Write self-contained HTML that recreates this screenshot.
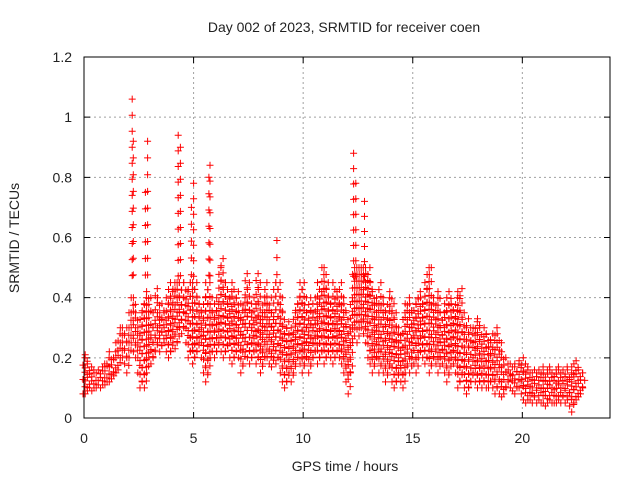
<!DOCTYPE html>
<html><head><meta charset="utf-8"><style>
body{margin:0;background:#fff}
svg text{font-family:"Liberation Sans",sans-serif;font-size:14px;fill:#222}
</style></head><body>
<svg id="chart" width="640" height="480">
<text x="344" y="32" text-anchor="middle">Day 002 of 2023, SRMTID for receiver coen</text>
<g id="grid"></g>
<g id="ticks"></g>
<path id="marks" fill="none" stroke="#ff0000" stroke-width="1"></path>
<rect x="84" y="57" width="526" height="361" fill="none" stroke="#000" stroke-width="1"></rect>
<text x="345" y="471" text-anchor="middle">GPS time / hours</text>
<text transform="translate(19,238) rotate(-90)" text-anchor="middle">SRMTID / TECUs</text>
</svg>
<script>
const xTicks=[0,5,10,15,20];
const yTicks=[0,0.2,0.4,0.6,0.8,1,1.2];
const yTickLabels=["0","0.2","0.4","0.6","0.8","1","1.2"];
const tStep=0.1;
const hiVals=[.2,.21,.18,.17,.16,.15,.15,.16,.17,.18,
.18,.2,.22,.2,.22,.25,.28,.3,.3,.28,
.3,.35,.4,.4,.35,.3,.35,.38,.4,.42,
.4,.3,.35,.43,.4,.35,.38,.35,.4,.45,
.42,.45,.45,.45,.45,.45,.45,.42,.45,.45,
.45,.45,.4,.38,.35,.4,.45,.45,.4,.35,
.38,.4,.5,.53,.45,.45,.4,.42,.45,.4,
.42,.35,.38,.4,.48,.45,.38,.35,.4,.48,
.45,.35,.4,.45,.38,.4,.35,.45,.45,.45,
.4,.35,.3,.32,.28,.3,.35,.38,.4,.45,
.45,.4,.35,.4,.38,.35,.4,.45,.42,.5,
.5,.45,.4,.38,.45,.42,.4,.45,.4,.38,
.35,.3,.4,.5,.5,.5,.5,.5,.5,.48,
.5,.45,.42,.4,.38,.45,.4,.38,.35,.4,
.42,.38,.35,.3,.3,.28,.35,.38,.4,.38,
.35,.38,.4,.42,.4,.38,.45,.5,.5,.4,
.38,.4,.42,.35,.35,.38,.4,.42,.38,.36,
.4,.42,.43,.35,.3,.33,.3,.28,.3,.32,
.33,.3,.27,.3,.28,.26,.25,.28,.3,.28,
.25,.22,.2,.18,.18,.17,.17,.18,.18,.19,
.2,.18,.17,.16,.15,.15,.16,.15,.16,.17,
.15,.16,.17,.16,.15,.16,.17,.16,.15,.16,
.17,.16,.15,.17,.18,.19,.16,.15,.15];
const loVals=[.08,.08,.09,.1,.09,.1,.1,.11,.1,.11,
.11,.12,.12,.13,.14,.15,.16,.2,.2,.18,
.15,.2,.25,.22,.2,.15,.1,.12,.1,.15,
.2,.18,.2,.22,.25,.22,.24,.25,.22,.2,
.22,.25,.23,.25,.3,.28,.3,.25,.2,.22,
.18,.2,.22,.25,.2,.15,.12,.15,.2,.22,
.2,.22,.25,.22,.2,.22,.24,.2,.18,.2,
.22,.2,.15,.18,.22,.2,.18,.2,.22,.18,
.2,.15,.18,.2,.2,.18,.17,.2,.18,.2,
.15,.12,.1,.12,.15,.12,.15,.18,.2,.18,
.15,.18,.2,.15,.18,.2,.22,.18,.2,.22,
.18,.2,.22,.2,.18,.2,.22,.2,.18,.15,
.12,.08,.15,.25,.3,.25,.3,.3,.28,.25,
.2,.18,.15,.18,.2,.15,.18,.15,.12,.15,
.18,.12,.1,.12,.15,.12,.1,.15,.18,.15,
.2,.18,.15,.2,.22,.2,.18,.2,.15,.18,
.2,.18,.15,.2,.18,.15,.12,.15,.2,.18,
.15,.1,.12,.15,.1,.08,.1,.12,.15,.12,
.1,.12,.1,.12,.1,.1,.12,.1,.08,.1,
.08,.07,.08,.1,.12,.1,.09,.08,.1,.1,
.08,.06,.05,.06,.06,.05,.07,.05,.06,.05,
.05,.04,.05,.06,.05,.05,.05,.06,.05,.07,
.05,.06,.04,.02,.05,.06,.07,.08,.1];
const spikeTimes=[2.2,2.25,2.8,2.9,4.3,4.4,4.9,5.0,5.7,5.75,8.8,12.3,12.4,12.8];
const spikeVals=[1.06,0.92,0.75,0.92,0.94,0.9,0.7,0.78,0.8,0.84,0.59,0.88,0.78,0.72];

const X0=84,X1=610,Y0=418,Y1=57;
const xs=v=>X0+(v/24)*(X1-X0);
const ys=v=>Y0-(v/1.2)*(Y0-Y1);
const NS='http://www.w3.org/2000/svg';
const grid=document.getElementById('grid'),ticks=document.getElementById('ticks'),svg=document.getElementById('chart');
function mk(tag,parent,attrs){const e=document.createElementNS(NS,tag);for(const k in attrs)e.setAttribute(k,attrs[k]);parent.appendChild(e);return e;}
xTicks.forEach(v=>{
  const x=xs(v);
  if(v>0){const g=mk('line',grid,{x1:x,x2:x,y1:Y1,y2:Y0,stroke:'#a0a0a0','stroke-dasharray':'2,3'});
  
  }
  const t=mk('path',ticks,{d:`M${x} ${Y0}v-6M${x} ${Y1}v6`,stroke:'#000'});
  
  
  const l=mk('text',svg,{x:x,y:443,'text-anchor':'middle'});l.textContent=v;
  
  
});
yTicks.forEach((v,i)=>{
  const y=ys(v);
  if(v>0&&v<1.2){const g=mk('line',grid,{x1:X0,x2:X1,y1:y,y2:y,stroke:'#a0a0a0','stroke-dasharray':'2,3'});
  
  }
  const t=mk('path',ticks,{d:`M${X0} ${y}h6M${X1} ${y}h-6`,stroke:'#000'});
  
  
  const l=mk('text',svg,{x:72,y:y+5,'text-anchor':'end'});l.textContent=yTickLabels[i];
  
  
});
let d='';
const plus=(x,y)=>{d+=`M${(x-3.5).toFixed(1)} ${y.toFixed(1)}h7M${x.toFixed(1)} ${(y-3.5).toFixed(1)}v7`;};
hiVals.forEach((h,i)=>{
  const x=xs(i*tStep),yt=ys(h),yb=ys(loVals[i]);
  const n=Math.max(1,Math.round((yb-yt)/7));
  for(let k=0;k<=n;k++){plus(x+((k%2)?1:-1),yb+(yt-yb)*k/n);}
});
spikeTimes.forEach((t,i)=>{
  const x=xs(t),yt=ys(spikeVals[i]),yb=ys(0.42);
  const n=Math.max(1,Math.round((yb-yt)/16));
  for(let k=1;k<=n;k++){plus(x,yb+(yt-yb)*k/n);}
});
document.getElementById('marks').setAttribute('d',d);
</script>
</body></html>
